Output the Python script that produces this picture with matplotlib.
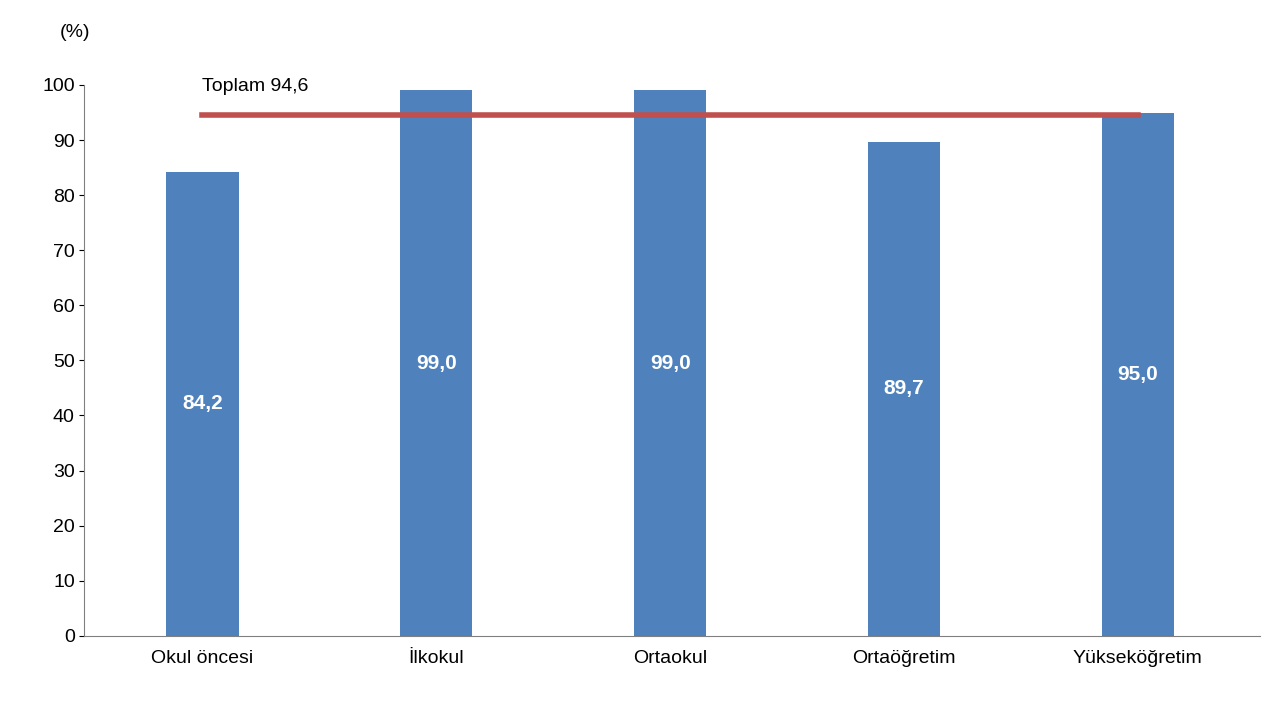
import matplotlib
matplotlib.use("Agg")
import matplotlib.pyplot as plt

categories = ["Okul öncesi", "İlkokul", "Ortaokul", "Ortaöğretim", "Yükseköğretim"]
values = [84.2, 99.0, 99.0, 89.7, 95.0]
total = 94.6
total_label = "Toplam 94,6"

plt.rcParams['font.family'] = ['Liberation Sans', 'DejaVu Sans']
fig = plt.figure(figsize=(12.8, 7.2), dpi=100)
ax = fig.add_axes([0.066, 0.117, 0.918, 0.765])
x = list(range(len(categories)))
ax.bar(x, values, width=0.31, color="#4F81BD", zorder=2)
for xi, v in zip(x, values):
    ax.text(xi, v / 2, f"{v:.1f}".replace(".", ","), ha="center", va="center",
            color="white", fontsize=15, fontweight="bold", zorder=4)
ax.plot([x[0], x[-1]], [total, total], color="#C0504D", lw=4, zorder=3)
ax.text(x[0], total + 3.5, total_label, ha="left", va="bottom", fontsize=14)
ax.set_xlim(-0.504, 4.52)
ax.set_ylim(0, 100)
ax.set_yticks(range(0, 101, 10))
ax.set_xticks(x)
ax.set_xticklabels(categories)
ax.tick_params(labelsize=14, colors="black")
ax.tick_params(axis="x", length=0, pad=10)
for s in ["top", "right"]:
    ax.spines[s].set_visible(False)
for s in ["left", "bottom"]:
    ax.spines[s].set_color("#808080")
fig.text(0.047, 0.955, "(%)", fontsize=14, ha="left", va="center")
fig.savefig("out.png", dpi=100)
